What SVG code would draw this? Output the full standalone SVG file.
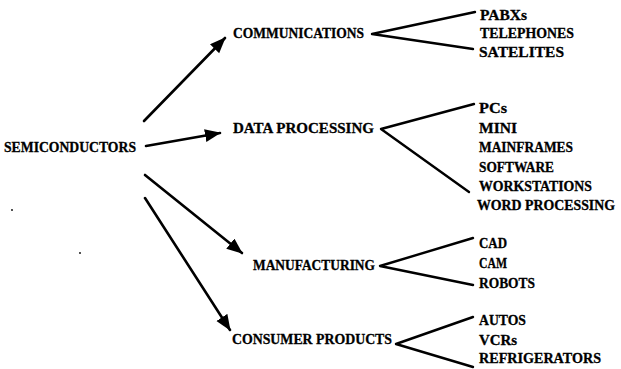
<svg xmlns="http://www.w3.org/2000/svg" width="621" height="369" viewBox="0 0 621 369">
  <style>
    text { font-family: "Liberation Serif", "Times New Roman", serif; font-weight: bold; font-size: 15px; fill: #000; stroke: #000; stroke-width: 0.3; }
    text.long { font-size: 14px; }
    .arrow { stroke: #000; stroke-width: 2.6; fill: none; stroke-linecap: round; }
    .branch { stroke: #000; stroke-width: 2.4; fill: none; stroke-linejoin: round; stroke-linecap: round; }
  </style>
  <defs>
    <marker id="head" markerUnits="userSpaceOnUse" markerWidth="16" markerHeight="14" refX="15" refY="6.5" orient="auto">
      <path d="M0,0 L16,6.5 L0,13 Z" fill="#000"/>
    </marker>
  </defs>
  <rect width="621" height="369" fill="#fff"/>

  <!-- root -->
  <g id="semiconductors">
    <text x="4" y="152" textLength="132" lengthAdjust="spacingAndGlyphs">SEMICONDUCTORS</text>
  </g>

  <!-- sectors -->
  <g id="communications">
    <text x="233" y="38" textLength="131" lengthAdjust="spacingAndGlyphs">COMMUNICATIONS</text>
  </g>
  <g id="data-processing">
    <text x="233" y="133" textLength="141" lengthAdjust="spacingAndGlyphs">DATA PROCESSING</text>
  </g>
  <g id="manufacturing">
    <text x="253" y="270" textLength="122" lengthAdjust="spacingAndGlyphs">MANUFACTURING</text>
  </g>
  <g id="consumer-products">
    <text x="232" y="344" textLength="160" lengthAdjust="spacingAndGlyphs">CONSUMER PRODUCTS</text>
  </g>

  <!-- leaf items -->
  <g id="communications-items">
    <text x="480" y="20" textLength="47" lengthAdjust="spacingAndGlyphs">PABXs</text>
    <text x="480" y="38" textLength="94" lengthAdjust="spacingAndGlyphs">TELEPHONES</text>
    <text x="479" y="57" textLength="85" lengthAdjust="spacingAndGlyphs">SATELITES</text>
  </g>
  <g id="data-processing-items">
    <text x="479" y="113" textLength="28" lengthAdjust="spacingAndGlyphs">PCs</text>
    <text x="479" y="133" textLength="38" lengthAdjust="spacingAndGlyphs">MINI</text>
    <text x="479" y="152" textLength="94" lengthAdjust="spacingAndGlyphs">MAINFRAMES</text>
    <text x="479" y="172" textLength="75" lengthAdjust="spacingAndGlyphs">SOFTWARE</text>
    <text x="479" y="191" textLength="113" lengthAdjust="spacingAndGlyphs">WORKSTATIONS</text>
    <text class="long" x="477" y="210" textLength="138" lengthAdjust="spacingAndGlyphs">WORD PROCESSING</text>
  </g>
  <g id="manufacturing-items">
    <text x="479" y="248" textLength="28" lengthAdjust="spacingAndGlyphs">CAD</text>
    <text x="479" y="268" textLength="28" lengthAdjust="spacingAndGlyphs">CAM</text>
    <text x="479" y="288" textLength="56" lengthAdjust="spacingAndGlyphs">ROBOTS</text>
  </g>
  <g id="consumer-products-items">
    <text x="479" y="325" textLength="47" lengthAdjust="spacingAndGlyphs">AUTOS</text>
    <text x="479" y="345" textLength="38" lengthAdjust="spacingAndGlyphs">VCRs</text>
    <text x="479" y="363" textLength="122" lengthAdjust="spacingAndGlyphs">REFRIGERATORS</text>
  </g>

  <!-- connectors -->
  <g id="connectors">
    <line class="arrow" x1="144" y1="121" x2="225" y2="38" marker-end="url(#head)"/>
    <line class="arrow" x1="146" y1="146" x2="220" y2="133" marker-end="url(#head)"/>
    <line class="arrow" x1="145" y1="175" x2="242" y2="253" marker-end="url(#head)"/>
    <line class="arrow" x1="145" y1="198" x2="230" y2="330" marker-end="url(#head)"/>

    <polyline class="branch" points="475,12 372,34 473,49"/>
    <polyline class="branch" points="474,104 381,129 469,192"/>
    <polyline class="branch" points="473,238 380,266 473,285"/>
    <polyline class="branch" points="473,317 396,344 473,367"/>
  </g>

  <!-- specks -->
  <circle cx="12" cy="210" r="0.9" fill="#000"/>
  <circle cx="80" cy="253" r="0.9" fill="#000"/>
</svg>
